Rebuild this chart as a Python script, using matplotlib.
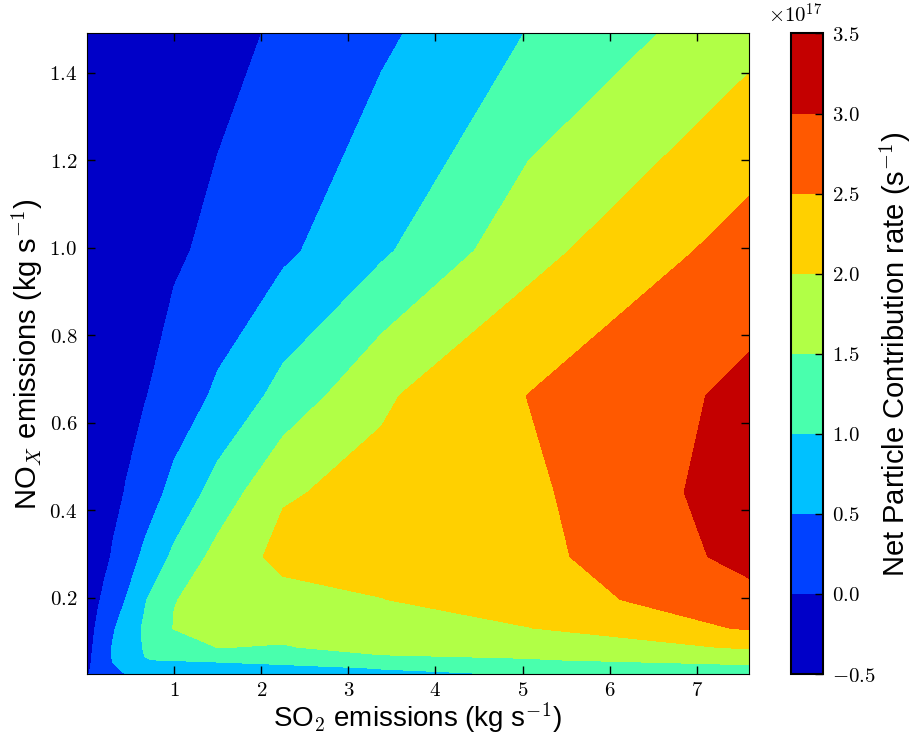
import numpy as np
import matplotlib
matplotlib.use("Agg")
import matplotlib.pyplot as plt
from matplotlib.ticker import FuncFormatter

plt.rcParams["font.family"] = ["Liberation Sans", "DejaVu Sans"]
plt.rcParams["mathtext.fontset"] = "cm"

# SO2 emissions (kg/s), grid columns
so2 = [0.0, 0.132, 0.198, 0.297, 0.445, 0.667, 1.0, 1.5, 2.25, 3.38, 5.07, 7.6]
# NOx emissions (kg/s), grid rows
nox = [0.0258, 0.0388, 0.0581, 0.0872, 0.131, 0.196, 0.294, 0.441, 0.662, 0.993, 1.49]

# net particle contribution rate, units of 1e17 s^-1 (one row per nox value)
rate = [
    [-0.02, 0.12, 0.20, 0.33, 0.51, 0.60, 0.68, 0.75, 0.82, 0.93, 1.02, 1.20],
    [-0.06, 0.14, 0.25, 0.45, 0.56, 0.62, 0.66, 0.74, 0.86, 1.01, 1.18, 1.35],
    [-0.11, 0.18, 0.32, 0.52, 0.69, 0.99, 1.03, 1.09, 1.17, 1.38, 1.47, 1.70],
    [-0.15, 0.16, 0.31, 0.53, 0.77, 1.04, 1.23, 1.51, 1.47, 1.68, 1.72, 2.05],
    [-0.20, 0.09, 0.24, 0.45, 0.72, 1.07, 1.52, 1.56, 1.65, 1.79, 1.99, 2.55],
    [-0.25, -0.03, 0.08, 0.25, 0.51, 0.97, 1.49, 1.60, 1.82, 1.99, 2.25, 2.85],
    [-0.30, -0.18, -0.10, 0.04, 0.27, 0.60, 1.10, 1.66, 2.15, 2.19, 2.35, 3.15],
    [-0.33, -0.25, -0.20, -0.12, 0.02, 0.26, 0.64, 1.20, 1.95, 2.15, 2.40, 3.25],
    [-0.36, -0.30, -0.27, -0.22, -0.15, -0.02, 0.22, 0.58, 1.17, 1.93, 2.51, 3.12],
    [-0.42, -0.38, -0.36, -0.33, -0.28, -0.20, -0.07, 0.12, 0.405, 0.92, 1.84, 2.72],
    [-0.45, -0.43, -0.42, -0.40, -0.38, -0.35, -0.30, -0.15, 0.074, 0.41, 1.02, 1.84],
]

levels = [-0.5, 0.0, 0.5, 1.0, 1.5, 2.0, 2.5, 3.0, 3.5]
xticks = [1, 2, 3, 4, 5, 6, 7]
yticks = [0.2, 0.4, 0.6, 0.8, 1.0, 1.2, 1.4]

fig = plt.figure(figsize=(9.16, 7.36), dpi=100)
ax = fig.add_axes([0.095, 0.0842, 0.7227, 0.8703])
cs = ax.contourf(so2, nox, np.array(rate), levels=levels, cmap="jet")

ax.set_xlim(so2[0], so2[-1])
ax.set_ylim(nox[0], nox[-1])
ax.set_xticks(xticks)
ax.set_yticks(yticks)
ax.xaxis.set_major_formatter(FuncFormatter(lambda v, p: "$%d$" % v))
ax.yaxis.set_major_formatter(FuncFormatter(lambda v, p: "$%.1f$" % v))
ax.tick_params(direction="in", top=True, right=True, length=6, width=1,
               labelsize=15, pad=7)
ax.tick_params(axis="x", pad=5)
ax.set_xlabel(r"SO$_2$ emissions (kg s$^{-1}$)", fontsize=20, labelpad=0)
ax.set_ylabel(r"NO$_X$ emissions (kg s$^{-1}$)", fontsize=21, labelpad=3)

# colorbar
cax = fig.add_axes([0.8632, 0.0842, 0.0349, 0.8703])
cb = fig.colorbar(cs, cax=cax, ticks=levels)
cb.ax.yaxis.set_major_formatter(FuncFormatter(lambda v, p: "$%.1f$" % v))
cax.tick_params(direction="in", length=6, width=1, labelsize=15, pad=7)
cb.outline.set_linewidth(1.5)
cb.set_label(r"Net Particle Contribution rate (s$^{-1}$)", fontsize=21,
             labelpad=1)
cax.text(1.0, 1.01, r"$\times10^{17}$", transform=cax.transAxes,
         ha="right", va="bottom", fontsize=15)

fig.savefig("out.png", dpi=100)
